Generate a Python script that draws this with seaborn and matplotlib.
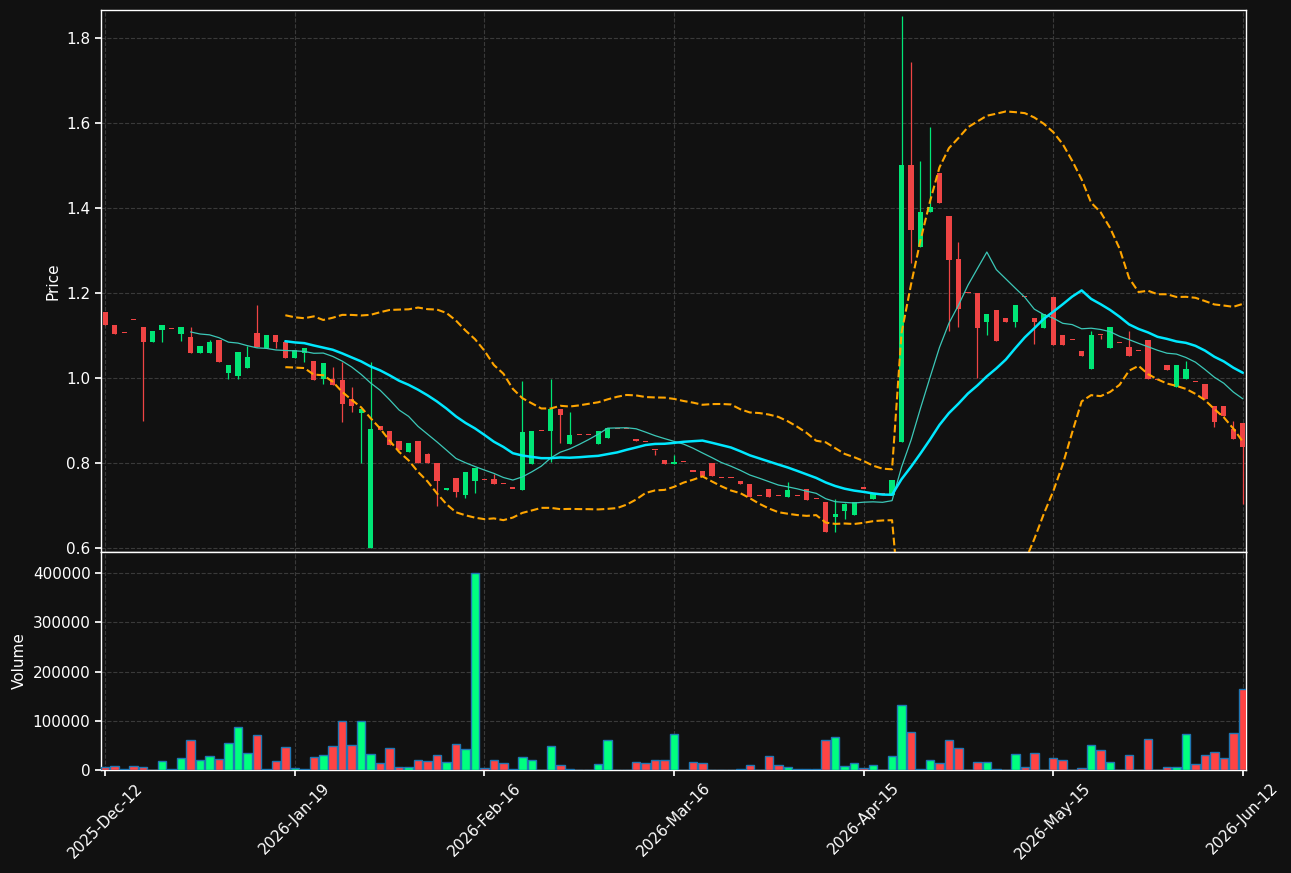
import numpy as np
import pandas as pd
import matplotlib.pyplot as plt
import seaborn as sns

# daily OHLC + volume (index = trading day)
opens = [1.156, 1.125, 1.106, 1.136, 1.121, 1.084, 1.114, 1.115, 1.104, 1.097,
         1.060, 1.060, 1.090, 1.013, 1.004, 1.025, 1.107, 1.071, 1.102, 1.085,
         1.048, 1.060, 1.041, 0.998, 0.998, 0.996, 0.951, 0.919, 0.600, 0.888,
         0.876, 0.852, 0.827, 0.852, 0.821, 0.800, 0.736, 0.765, 0.726, 0.759,
         0.760, 0.763, 0.751, 0.740, 0.737, 0.798, 0.875, 0.876, 0.928, 0.846,
         0.866, 0.866, 0.846, 0.859, 0.880, 0.880, 0.857, 0.849, 0.831, 0.808,
         0.799, 0.802, 0.780, 0.782, 0.801, 0.765, 0.765, 0.758, 0.751, 0.722,
         0.740, 0.722, 0.721, 0.722, 0.739, 0.715, 0.709, 0.674, 0.688, 0.678,
         0.740, 0.715, 0.726, 0.724, 0.850, 1.502, 1.309, 1.390, 1.483, 1.382,
         1.281, 1.200, 1.201, 1.131, 1.161, 1.142, 1.131, 1.190, 1.142, 1.118,
         1.191, 1.102, 1.089, 1.064, 1.022, 1.101, 1.071, 1.082, 1.074, 1.064,
         1.090, 0.995, 1.031, 0.980, 0.999, 0.991, 0.987, 0.935, 0.935, 0.881,
         0.895]
highs = [1.156, 1.125, 1.106, 1.136, 1.121, 1.111, 1.125, 1.115, 1.121, 1.121,
         1.076, 1.090, 1.090, 1.031, 1.062, 1.076, 1.172, 1.102, 1.102, 1.085,
         1.067, 1.071, 1.041, 1.036, 1.026, 1.039, 0.980, 0.928, 1.039, 0.888,
         0.876, 0.852, 0.847, 0.852, 0.824, 0.800, 0.742, 0.765, 0.780, 0.789,
         0.760, 0.774, 0.751, 0.740, 0.994, 0.876, 0.875, 0.998, 0.928, 0.920,
         0.866, 0.866, 0.876, 0.882, 0.880, 0.880, 0.857, 0.849, 0.831, 0.808,
         0.819, 0.802, 0.780, 0.782, 0.801, 0.765, 0.765, 0.758, 0.751, 0.722,
         0.740, 0.722, 0.755, 0.722, 0.739, 0.715, 0.709, 0.716, 0.706, 0.708,
         0.740, 0.730, 0.726, 0.761, 1.851, 1.744, 1.511, 1.592, 1.483, 1.382,
         1.320, 1.200, 1.201, 1.151, 1.161, 1.142, 1.173, 1.190, 1.142, 1.151,
         1.191, 1.102, 1.089, 1.064, 1.110, 1.101, 1.121, 1.082, 1.111, 1.064,
         1.090, 0.995, 1.031, 1.031, 1.040, 0.991, 0.987, 0.935, 0.935, 0.900,
         0.895]
lows = [1.124, 1.105, 1.106, 1.136, 0.899, 1.084, 1.084, 1.115, 1.088, 1.060,
        1.060, 1.060, 1.039, 0.999, 0.999, 1.025, 1.074, 1.071, 1.071, 1.048,
        1.048, 1.039, 0.996, 0.986, 0.983, 0.898, 0.920, 0.800, 0.600, 0.878,
        0.843, 0.830, 0.827, 0.800, 0.800, 0.700, 0.736, 0.720, 0.718, 0.729,
        0.760, 0.751, 0.751, 0.740, 0.737, 0.798, 0.875, 0.803, 0.847, 0.846,
        0.866, 0.866, 0.846, 0.859, 0.880, 0.880, 0.851, 0.849, 0.819, 0.797,
        0.799, 0.802, 0.780, 0.769, 0.770, 0.765, 0.765, 0.751, 0.721, 0.722,
        0.721, 0.722, 0.721, 0.722, 0.714, 0.715, 0.639, 0.639, 0.668, 0.678,
        0.740, 0.715, 0.726, 0.724, 0.850, 1.271, 1.309, 1.390, 1.411, 1.112,
        1.120, 1.200, 1.000, 1.101, 1.088, 1.131, 1.120, 1.190, 1.080, 1.118,
        1.078, 1.078, 1.089, 1.052, 1.022, 1.092, 1.071, 1.082, 1.052, 1.064,
        0.998, 0.995, 1.020, 0.980, 0.999, 0.991, 0.950, 0.885, 0.910, 0.858,
        0.704]
closes = [1.124, 1.105, 1.106, 1.136, 1.084, 1.111, 1.125, 1.115, 1.121, 1.060,
          1.076, 1.085, 1.039, 1.031, 1.062, 1.050, 1.074, 1.102, 1.084, 1.048,
          1.067, 1.071, 0.996, 1.036, 0.983, 0.940, 0.935, 0.928, 0.881, 0.878,
          0.843, 0.830, 0.847, 0.800, 0.800, 0.757, 0.742, 0.733, 0.780, 0.789,
          0.760, 0.751, 0.751, 0.740, 0.874, 0.876, 0.875, 0.928, 0.914, 0.866,
          0.866, 0.866, 0.876, 0.882, 0.880, 0.880, 0.851, 0.849, 0.831, 0.797,
          0.801, 0.802, 0.780, 0.769, 0.770, 0.765, 0.765, 0.751, 0.721, 0.722,
          0.721, 0.722, 0.737, 0.722, 0.714, 0.715, 0.639, 0.681, 0.704, 0.708,
          0.740, 0.730, 0.726, 0.761, 1.502, 1.349, 1.391, 1.403, 1.411, 1.279,
          1.162, 1.200, 1.119, 1.151, 1.088, 1.131, 1.173, 1.190, 1.131, 1.151,
          1.078, 1.078, 1.089, 1.052, 1.102, 1.101, 1.121, 1.082, 1.052, 1.064,
          0.998, 0.995, 1.020, 1.031, 1.022, 0.991, 0.950, 0.898, 0.910, 0.858,
          0.839]
volumes = [7000, 8800, 1000, 8800, 5400, 500, 19000, 1400, 25000, 60300,
           21000, 29000, 23000, 54000, 86800, 34000, 70500, 1400, 17600, 46000,
           4700, 2700, 25800, 29800, 48000, 99000, 50000, 99000, 31900, 13600,
           44000, 6800, 6800, 19700, 17600, 29800, 15600, 52200, 42000, 400000,
           3400, 19700, 13600, 1000, 25800, 19700, 0, 48000, 9500, 1400,
           0, 0, 11500, 60300, 0, 0, 15600, 13600, 19700, 19700,
           72500, 0, 15600, 13600, 0, 0, 0, 1400, 9500, 0,
           27800, 9500, 5400, 1000, 1000, 1000, 60300, 66400, 7500, 13600,
           3400, 9500, 0, 27800, 131500, 76600, 2700, 19700, 13600, 60300,
           44000, 0, 15600, 15600, 1000, 0, 31900, 6800, 34000, 0,
           23700, 19700, 0, 3400, 50000, 40000, 15600, 0, 29800, 0,
           62400, 0, 5400, 5400, 72500, 11500, 29800, 36000, 23700, 74600,
           164000]

tick_pos = [0, 20, 40, 60, 80, 100, 120]
tick_labels = ['2025-Dec-12', '2026-Jan-19', '2026-Feb-16', '2026-Mar-16',
               '2026-Apr-15', '2026-May-15', '2026-Jun-12']

BG = '#111111'
UP = '#00e676'
DOWN = '#ef4444'
VUP = '#00ff7f'
VDOWN = '#ff4444'

sns.set_theme(style='darkgrid', rc={
    'figure.facecolor': BG, 'axes.facecolor': BG, 'axes.edgecolor': 'white',
    'grid.color': '#3a3a3a', 'grid.linestyle': '--', 'grid.linewidth': 0.8,
    'text.color': 'white', 'axes.labelcolor': 'white',
    'xtick.color': 'white', 'ytick.color': 'white',
    'xtick.bottom': True, 'ytick.left': True,
})
plt.rcParams['font.family'] = ['DejaVu Sans']

df = pd.DataFrame({'open': opens, 'high': highs, 'low': lows,
                   'close': closes, 'volume': volumes})
df['idx'] = np.arange(len(df))
df['ma10'] = df['close'].rolling(10).mean()
df['ma20'] = df['close'].rolling(20).mean()
std20 = df['close'].rolling(20).std(ddof=0)
df['bb_up'] = df['ma20'] + 2 * std20
df['bb_lo'] = df['ma20'] - 2 * std20
up = df['close'] > df['open']
colors = np.where(up, UP, DOWN)
vcolors = np.where(up, VUP, VDOWN)

fig = plt.figure(figsize=(12.91, 8.73), dpi=100)
ax = fig.add_axes([0.0782, 0.3677, 0.8869, 0.6208])
axv = fig.add_axes([0.0782, 0.1180, 0.8869, 0.2497], sharex=ax)

# candles
ax.vlines(df['idx'], df['low'], df['high'], colors=colors, lw=0.9, zorder=2)
body_lo = np.minimum(df['open'], df['close'])
body_h = np.maximum((df['close'] - df['open']).abs(), 0.003)
ax.bar(df['idx'], body_h, bottom=body_lo, width=0.55, color=colors,
       edgecolor='none', linewidth=0, zorder=3)

# overlays
sns.lineplot(data=df, x='idx', y='ma10', ax=ax, color='#3cc8b8', lw=0.9, zorder=4)
sns.lineplot(data=df, x='idx', y='ma20', ax=ax, color='#00e8ff', lw=1.8, zorder=4)
sns.lineplot(data=df, x='idx', y='bb_up', ax=ax, color='#ffa500', lw=1.5,
             linestyle='--', zorder=5)
sns.lineplot(data=df, x='idx', y='bb_lo', ax=ax, color='#ffa500', lw=1.5,
             linestyle='--', zorder=5)

ax.set_ylim(0.591, 1.866)
ax.set_xlim(-0.45, 120.33)
ax.set_yticks([0.6, 0.8, 1.0, 1.2, 1.4, 1.6, 1.8])
ax.set_ylabel('Price', fontsize=11)
ax.set_xlabel('')
ax.tick_params(axis='x', labelbottom=False, length=0)
ax.tick_params(axis='y', labelsize=11, length=4)

# volume
axv.bar(df['idx'], df['volume'], width=0.9, color=vcolors,
        edgecolor='#1f77b4', linewidth=1, zorder=3)
axv.set_ylim(0, 443000)
axv.set_yticks([0, 100000, 200000, 300000, 400000])
axv.ticklabel_format(style='plain', axis='y')
axv.set_ylabel('Volume', fontsize=11)
axv.set_xlabel('')
axv.set_xticks(tick_pos)
axv.set_xticklabels(tick_labels, rotation=45, fontsize=11)
axv.tick_params(axis='y', labelsize=11, length=4)
axv.tick_params(axis='x', length=4)

for a in (ax, axv):
    a.grid(True, color='#3a3a3a', linestyle='--', linewidth=0.8)
    for s in a.spines.values():
        s.set_color('white')
        s.set_linewidth(1)

fig.savefig('out.png', dpi=100, facecolor=BG)
